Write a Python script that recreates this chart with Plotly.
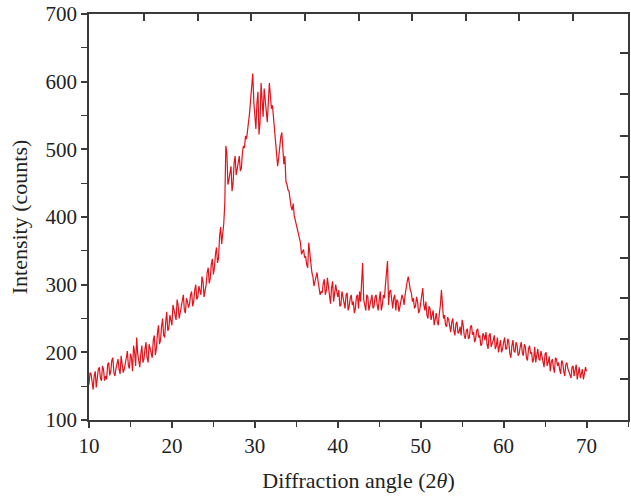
import plotly.graph_objects as go

# sampling grid (degrees 2θ): main readings every 0.25°, in-between readings offset by 0.125°
x_start = 10.0
x_step = 0.25

intensity = [
    152, 168, 145, 172, 160, 178, 158, 175, 165,
    182, 166, 188, 170, 176, 190, 168, 184,
    175, 192, 180, 198, 172, 200, 222, 186,
    198, 185, 205, 192, 212, 200, 218, 196,
    228, 212, 238, 225, 245, 232, 255, 240,
    262, 248, 270, 258, 275, 262, 280, 266,
    285, 268, 292, 278, 298, 285, 305, 292,
    318, 302, 330, 315, 345, 332, 372, 360,
    390, 505, 448, 470, 438, 480, 462, 478,
    468, 495, 502, 515, 535, 575, 612, 552,
    568, 522, 598, 548, 575, 540, 598, 560,
    548, 520, 475, 510, 525, 478, 452, 440,
    425, 410, 402, 388, 375, 362, 350, 340,
    330, 362, 338, 312, 305, 318, 296, 290,
    302, 285, 310, 280, 295, 275, 300, 282,
    268, 290, 272, 285, 262, 280, 270, 258,
    282, 265, 275, 332, 268, 285, 262, 278,
    265, 282, 270, 278, 262, 285, 300, 335,
    290, 272, 280, 262, 275, 268, 285, 270,
    298, 312, 292, 275, 265, 282, 258, 272,
    295, 262, 255, 268, 248, 262, 252, 245,
    258, 292, 250, 240, 252, 236, 245, 232,
    242, 228, 238, 248, 225, 232, 220, 238,
    226, 215, 232, 222, 210, 228, 218, 212,
    225, 208, 218, 205, 222, 212, 200, 215,
    205, 220, 198, 210, 202, 215, 195, 208,
    200, 212, 192, 205, 198, 185, 208, 196,
    190, 202, 185, 198, 180, 194, 186, 178,
    192, 180, 175, 188, 172, 182, 176, 168,
    178, 165, 182, 170, 162, 175, 168, 172,
]

intensity_mid = [
    170, 150, 165, 148, 175, 162, 180, 158,
    160, 185, 172, 192, 165, 182, 175, 195,
    170, 188, 202, 176, 192, 210, 180, 198,
    178, 210, 190, 215, 185, 205, 192, 225,
    205, 240, 218, 250, 222, 260, 235, 248,
    270, 255, 278, 250, 268, 285, 258, 275,
    272, 290, 275, 300, 282, 290, 312, 282,
    300, 325, 310, 338, 325, 355, 340, 385,
    372, 420, 495, 455, 475, 450, 490, 470,
    490, 472, 505, 520, 528, 555, 590, 570,
    530, 585, 540, 560, 590, 555, 570, 580,
    565, 535, 498, 488, 518, 505, 490, 448,
    438, 415, 420, 395, 380, 368, 345, 352,
    342, 325, 345, 318, 298, 310, 305, 285,
    288, 308, 292, 298, 272, 305, 285, 290,
    292, 270, 282, 265, 288, 268, 285, 275,
    265, 285, 290, 300, 278, 262, 282, 270,
    285, 268, 285, 262, 290, 270, 280, 320,
    270, 292, 265, 285, 278, 260, 275, 280,
    285, 305, 300, 288, 280, 268, 275, 262,
    280, 270, 275, 250, 265, 255, 240, 258,
    240, 270, 265, 255, 238, 248, 230, 250,
    225, 245, 230, 225, 240, 220, 235, 222,
    240, 230, 220, 235, 225, 212, 225, 230,
    205, 228, 212, 225, 210, 200, 218, 205,
    222, 205, 215, 192, 218, 200, 210, 198,
    215, 195, 208, 188, 210, 200, 190, 185,
    205, 188, 195, 178, 200, 185, 172, 190,
    170, 190, 185, 168, 185, 165, 185, 172,
    162, 180, 172, 160, 178, 168, 160, 178,
]

angles_main = [x_start + i * x_step for i in range(len(intensity))]
angles_mid = [x_start + x_step / 2 + i * x_step for i in range(len(intensity_mid))]
pairs = sorted(zip(angles_main + angles_mid, intensity + intensity_mid))
angles = [p[0] for p in pairs]
counts = [p[1] for p in pairs]

x_ticks = [10, 20, 30, 40, 50, 60, 70]
y_ticks = [100, 200, 300, 400, 500, 600, 700]

FONT = "Liberation Serif"
AX = "#3a3a3a"

fig = go.Figure()
fig.add_trace(go.Scatter(
    x=angles, y=counts, mode="lines",
    line=dict(color="#e3121b", width=1.2),
    showlegend=False, hoverinfo="skip",
))

# decorative mirror axes (top / right) with their own tick spacing
fig.add_trace(go.Scatter(x=[None], y=[None], xaxis="x2", yaxis="y2", showlegend=False))

fig.update_layout(
    width=631, height=496,
    margin=dict(l=89, r=3, t=14, b=76),
    paper_bgcolor="white", plot_bgcolor="white",
    font=dict(family=FONT, size=21, color="#222"),
    xaxis=dict(
        range=[10, 75], tickvals=x_ticks, ticks="outside", ticklen=6, tickwidth=2,
        tickcolor=AX, showline=True, linecolor=AX, linewidth=1.5, showgrid=False,
        zeroline=False, tickfont=dict(size=21, family=FONT),
        minor=dict(dtick=5, tick0=5, ticks="outside", ticklen=5, tickwidth=1, tickcolor=AX),
        title=dict(text="Diffraction angle (2<i>θ</i>)", font=dict(size=22, family=FONT), standoff=16),
    ),
    yaxis=dict(
        range=[100, 700], tickvals=y_ticks, ticks="outside", ticklen=6, tickwidth=2,
        tickcolor=AX, showline=True, linecolor=AX, linewidth=1.5, showgrid=False,
        zeroline=False, tickfont=dict(size=21, family=FONT),
        minor=dict(dtick=50, tick0=50, ticks="outside", ticklen=6, tickwidth=1, tickcolor=AX),
        title=dict(text="Intensity (counts)", font=dict(size=22, family=FONT), standoff=12),
    ),
    xaxis2=dict(
        overlaying="x", side="top", range=[89, 628],
        tickvals=[144, 197.6, 251.2, 305, 358.5, 412, 465.8, 519.4, 573],
        ticks="inside", ticklen=7, tickwidth=1.5, tickcolor=AX,
        showticklabels=False, showline=True, linecolor=AX, linewidth=1.5,
        showgrid=False, zeroline=False,
    ),
    yaxis2=dict(
        overlaying="y", side="right", range=[420, 14],
        tickvals=[53.3, 94.3, 136, 176.7, 216.7, 257.7, 298.3, 339, 379.3],
        ticks="inside", ticklen=8, tickwidth=1.5, tickcolor=AX,
        showticklabels=False, showline=True, linecolor=AX, linewidth=1.5,
        showgrid=False, zeroline=False,
    ),
)

fig.write_html("out.html")
